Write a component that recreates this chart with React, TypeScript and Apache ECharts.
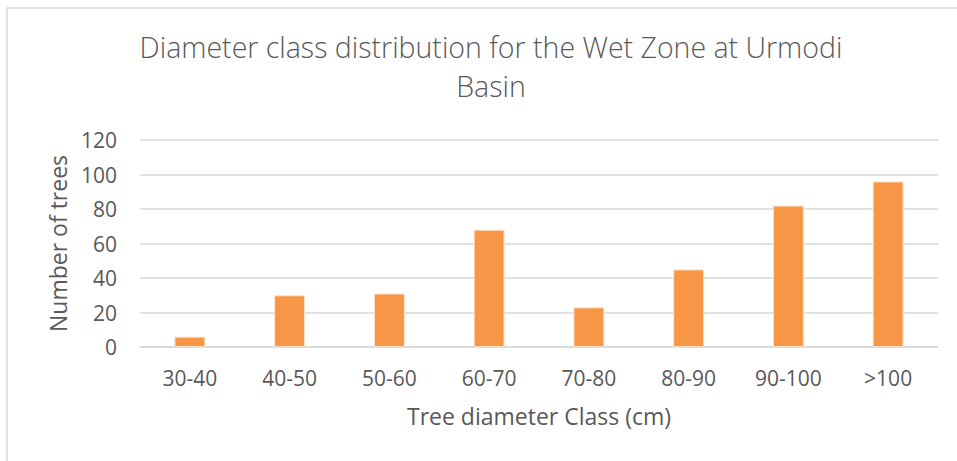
import React, { useEffect, useRef } from "react";
import * as echarts from "echarts";

const categories = ["30-40", "40-50", "50-60", "60-70", "70-80", "80-90", "90-100", ">100"];
const treeCounts = [6, 30, 31, 68, 23, 45, 82, 96];
const titleText = "Diameter class distribution for the Wet Zone at Urmodi\nBasin";
const xAxisName = "Tree diameter Class (cm)";
const yAxisName = "Number of trees";

const FONT = "'Open Sans', sans-serif";
const GRAY = "#595959";

export default function App() {
  const ref = useRef<HTMLDivElement>(null);
  useEffect(() => {
    if (!ref.current) return;
    const chart = echarts.init(ref.current, undefined, { renderer: "svg" });
    chart.setOption({
      animation: false,
      backgroundColor: "#ffffff",
      textStyle: { fontFamily: FONT },
      title: {
        text: titleText,
        left: 486,
        top: 22,
        textAlign: "center",
        textStyle: {
          fontFamily: FONT,
          fontSize: 28.5,
          fontWeight: 300,
          color: GRAY,
          lineHeight: 39,
        },
      },
      graphic: [
        {
          type: "rect",
          shape: { x: 7, y: 8, width: 1000, height: 500 },
          style: { fill: "none", stroke: "#d9d9d9", lineWidth: 1.5 },
          silent: true,
        },
      ],
      grid: { left: 140, right: 19, top: 140, bottom: 114 },
      xAxis: {
        type: "category",
        data: categories,
        name: xAxisName,
        nameLocation: "middle",
        nameGap: 57,
        nameTextStyle: { fontFamily: FONT, fontSize: 23, color: GRAY },
        axisLine: { show: true, lineStyle: { color: "#d9d9d9", width: 1.5 } },
        axisTick: { show: false },
        axisLabel: { fontFamily: FONT, fontSize: 21, color: GRAY, margin: 20 },
      },
      yAxis: {
        type: "value",
        min: 0,
        max: 120,
        interval: 20,
        name: yAxisName,
        nameLocation: "middle",
        nameGap: 71,
        nameTextStyle: { fontFamily: FONT, fontSize: 23, color: GRAY },
        axisLine: { show: false },
        axisTick: { show: false },
        axisLabel: { fontFamily: FONT, fontSize: 21, color: GRAY, margin: 23 },
        splitLine: { lineStyle: { color: "#d9d9d9", width: 1.5 } },
      },
      series: [
        {
          type: "bar",
          data: treeCounts,
          barWidth: "31%",
          itemStyle: { color: "#F79646", borderColor: "#fde3cc", borderWidth: 1 },
        },
      ],
    });
    return () => chart.dispose();
  }, []);
  return (
    <div
      ref={ref}
      style={{ position: "absolute", left: 0, top: 0, width: 957, height: 461 }}
    />
  );
}
